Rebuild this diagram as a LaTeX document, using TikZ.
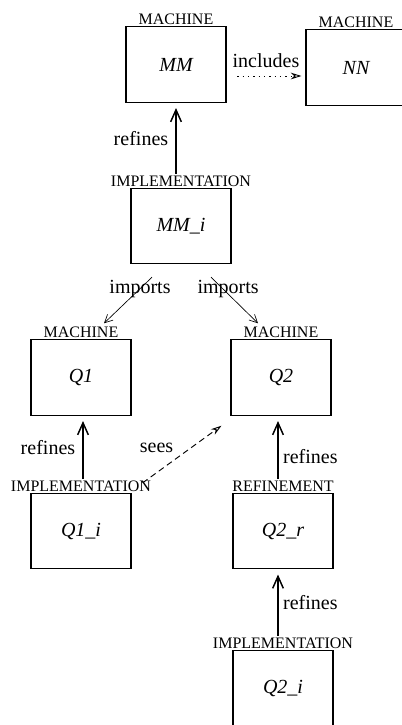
\documentclass[tikz,border=0pt]{standalone}
\usepackage{fontspec}
\setmainfont{Liberation Serif}
\usetikzlibrary{arrows.meta,calc}

\begin{document}
\begin{tikzpicture}[x=0.75pt,y=-0.75pt,
		comp/.style={draw,line width=0.8pt,minimum width=75pt,minimum height=56.5pt,
			inner sep=0pt,font=\fontsize{15}{18}\selectfont\itshape},
		kind/.style={font=\fontsize{12}{14}\selectfont,inner sep=1pt},
		rel/.style={font=\fontsize{15}{18}\selectfont},
		refine/.style={-{Straight Barb[length=9pt,width=8pt]},line width=1.1pt,shorten >=4pt},
		imports/.style={-{Straight Barb[length=6pt,width=6pt]},line width=0.5pt},
		uses/.style={-{Stealth[open,length=8pt,width=5pt]},line width=0.7pt}]
		\useasboundingbox (0,0) rectangle (401,725);
		% machines and their refinements
		\node[comp,label={[kind,name=MM-kind]above:MACHINE}] (MM) at (176,64.5) {MM};
		\node[comp,label={[kind,name=NN-kind]above:MACHINE}] (NN) at (356,67.5) {NN};
		\node[comp,label={[kind,name=MMi-kind]above:IMPLEMENTATION}] (MMi) at (181,226) {MM\_i};
		\node[comp,label={[kind,name=Q1-kind]above:MACHINE}] (Q1) at (81,377.5) {Q1};
		\node[comp,label={[kind,name=Q2-kind]above:MACHINE}] (Q2) at (281,377.5) {Q2};
		\node[comp,label={[kind,name=Q1i-kind]above:IMPLEMENTATION}] (Q1i) at (81,531) {Q1\_i};
		\node[comp,label={[kind,name=Q2r-kind]above:REFINEMENT}] (Q2r) at (283,531) {Q2\_r};
		\node[comp,label={[kind,name=Q2i-kind]above:IMPLEMENTATION}] (Q2i) at (283,688) {Q2\_i};

		% links
		\draw[uses,dash pattern=on 1pt off 3pt,shorten <=8pt,shorten >=3pt]
			($(MM.east)+(0,11.5)$) -- ($(NN.west)+(0,8.5)$)
			node[midway,above,rel,inner sep=1pt,yshift=5pt] {includes};
		\draw[refine] (MMi-kind.north -| MM.south) -- (MM.south)
			node[midway,left,rel,xshift=-2pt] {refines};
		\draw[imports] ($(MMi.south)+(-29,13)$) -- ($(Q1.north)+(23,-16)$)
			node[pos=.25,rel] {imports};
		\draw[imports] ($(MMi.south)+(30,13)$) -- ($(Q2.north)+(-23,-16)$)
			node[pos=.25,rel,xshift=4pt] {imports};
		\draw[refine] ([xshift=1.5pt]Q1i-kind.north -| Q1.south) -- ([xshift=1.5pt]Q1.south)
			node[midway,left,rel,xshift=-2pt] {refines};
		\draw[uses,dash pattern=on 4.5pt off 3pt]
			($(Q1i-kind.north east)+(-10,4)$) -- ($(Q2.south west)+(-9,10)$)
			node[pos=.45,above left,rel] {sees};
		\draw[refine] ([xshift=-2.25pt]Q2r-kind.north -| Q2.south) -- ([xshift=-2.25pt]Q2.south)
			node[pos=.35,right,rel] {refines};
		\draw[refine] ([xshift=-3.75pt]Q2i-kind.north -| Q2r.south) -- ([xshift=-3.75pt]Q2r.south)
			node[midway,right,rel] {refines};
	\end{tikzpicture}
\end{document}
